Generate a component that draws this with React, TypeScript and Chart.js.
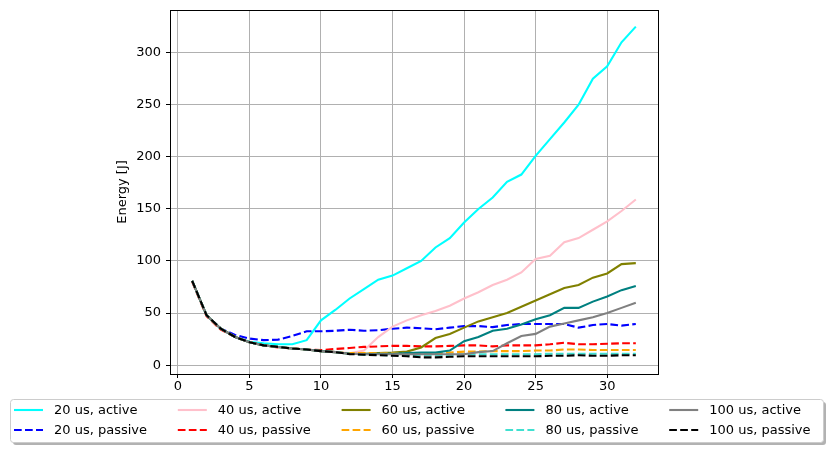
import { useEffect, useRef } from "react";
import { Chart, registerables } from "chart.js";

Chart.register(...registerables);

const xValues = [
  1, 2, 3, 4, 5, 6, 7, 8, 9, 10, 11, 12, 13, 14, 15, 16, 17, 18, 19, 20, 21,
  22, 23, 24, 25, 26, 27, 28, 29, 30, 31, 32,
];

const xTicks = [0, 5, 10, 15, 20, 25, 30];
const yTicks = [0, 50, 100, 150, 200, 250, 300];

const active20 = [
  81, 48, 35, 27, 22.5, 21, 20, 20, 24, 43, 53, 64, 73, 82, 86, 93, 100, 113,
  122, 137, 150, 161, 176, 183, 201, 217, 233, 250, 275, 287, 310, 325,
];
const passive20 = [
  81, 48, 35, 29, 25.5, 24, 24.5, 28, 32.5, 32.5, 33, 34, 33, 33.5, 35, 36,
  35.5, 34.5, 36, 37.5, 37.5, 36.5, 38.5, 39.5, 39.5, 39.5, 39.5, 36, 38.5,
  39.5, 38, 39.5,
];
const active40 = [
  81, 48, 35, 27, 22, 19, 17.5, 16, 15, 13.5, 12.5, 11.5, 14, 27, 37, 43, 48,
  52, 57, 64, 70, 77, 82, 89, 102, 105, 118, 122, 130, 138, 148, 159,
];
const passive40 = [
  80, 47, 34, 27, 22, 19, 17, 16, 15, 14.5, 15.5, 16.5, 17.5, 18, 18.5, 18.5,
  18, 18, 18.5, 19, 19, 18, 19, 19, 19, 20, 21.5, 20, 20, 20.5, 21, 21,
];
const active60 = [
  81, 48, 35, 27, 22, 19, 17.5, 16, 15, 13.5, 12.5, 11, 11, 11.5, 12, 13, 17,
  26, 30, 36, 42, 46, 50, 56, 62, 68, 74, 77, 84, 88, 97, 98,
];
const passive60 = [
  81, 48, 35, 27, 22, 19, 17.5, 16, 15, 13.5, 12.5, 11.5, 11.5, 11.5, 11.5,
  11.5, 11.5, 11.5, 12, 13, 13, 13.5, 13.5, 13.5, 14, 14, 15, 15, 14.5, 14.5,
  14.5, 14.5,
];
const active80 = [
  81, 48, 35, 27, 22, 19, 17.5, 16, 15, 13.5, 12.5, 11, 10.5, 11, 11, 11.5, 12,
  12, 14, 23, 27, 33, 35, 39, 44, 48, 55, 55, 61, 66, 72, 76,
];
const passive80 = [
  81, 48, 35, 27, 22, 19, 17.5, 16, 15, 13.5, 12.5, 11, 10, 9.8, 9.5, 9.5, 9.5,
  9.5, 10, 10.5, 10.5, 10.5, 10.5, 10.5, 10.5, 11, 11, 11, 11, 11, 11, 11,
];
const active100 = [
  81, 48, 35, 27, 22, 19, 17.5, 16, 15, 13.5, 12.5, 11, 10.5, 10.5, 10.5, 10.5,
  10.5, 10.5, 10.5, 10.5, 12.5, 13.5, 21, 28, 30, 37, 40, 43, 46, 50, 55, 60,
];
const passive100 = [
  81, 48, 35, 27, 22, 19, 17.5, 16, 15, 13.5, 12.5, 10.6, 10, 9.6, 9, 8.6, 7.5,
  7.5, 8, 8.5, 8.5, 8.5, 8.5, 8.5, 8.5, 9, 9, 9.5, 9, 9, 9.5, 9.5,
];

const series = [
  { label: "20 us, active", data: active20, color: "#00ffff", dashed: false },
  { label: "20 us, passive", data: passive20, color: "#0000ff", dashed: true },
  { label: "40 us, active", data: active40, color: "#ffc0cb", dashed: false },
  { label: "40 us, passive", data: passive40, color: "#ff0000", dashed: true },
  { label: "60 us, active", data: active60, color: "#808000", dashed: false },
  { label: "60 us, passive", data: passive60, color: "#ffa500", dashed: true },
  { label: "80 us, active", data: active80, color: "#008080", dashed: false },
  { label: "80 us, passive", data: passive80, color: "#40e0d0", dashed: true },
  { label: "100 us, active", data: active100, color: "#808080", dashed: false },
  { label: "100 us, passive", data: passive100, color: "#000000", dashed: true },
];

const DASH = [7.7, 3.3];
const FONT = "DejaVu Sans";

// matplotlib-style frame + legend box below the axes
const framePlugin = {
  id: "frame",
  afterDraw(chart: Chart) {
    const { ctx, chartArea } = chart;
    ctx.save();
    ctx.strokeStyle = "#000";
    ctx.lineWidth = 1;
    ctx.setLineDash([]);
    ctx.strokeRect(
      Math.round(chartArea.left) + 0.5,
      Math.round(chartArea.top) + 0.5,
      Math.round(chartArea.right - chartArea.left),
      Math.round(chartArea.bottom - chartArea.top)
    );

    const bx = 10;
    const by = 399;
    const bw = 813;
    const bh = 43;
    ctx.fillStyle = "rgba(0,0,0,0.3)";
    ctx.beginPath();
    ctx.roundRect(bx + 3, by + 3, bw, bh, 3);
    ctx.fill();
    ctx.fillStyle = "#fff";
    ctx.strokeStyle = "#cccccc";
    ctx.beginPath();
    ctx.roundRect(bx + 0.5, by + 0.5, bw, bh, 3);
    ctx.fill();
    ctx.stroke();

    ctx.font = `13px "${FONT}"`;
    ctx.textBaseline = "middle";
    ctx.textAlign = "left";
    series.forEach((s, i) => {
      const col = Math.floor(i / 2);
      const row = i % 2;
      const x = 14 + col * 163.8;
      const y = 410 + row * 20;
      ctx.strokeStyle = s.color;
      ctx.lineWidth = 2.1;
      ctx.setLineDash(s.dashed ? DASH : []);
      ctx.beginPath();
      ctx.moveTo(x, y);
      ctx.lineTo(x + 29, y);
      ctx.stroke();
      ctx.fillStyle = "#000";
      ctx.fillText(s.label, x + 40, y + 1);
    });
    ctx.restore();
  },
};

export default function App() {
  const canvasRef = useRef<HTMLCanvasElement | null>(null);
  const chartRef = useRef<Chart | null>(null);

  useEffect(() => {
    document.body.style.margin = "0";
    const canvas = canvasRef.current;
    if (!canvas) return;

    chartRef.current?.destroy();
    Chart.defaults.font.family = FONT;
    Chart.defaults.font.size = 13;
    Chart.defaults.color = "#000";

    chartRef.current = new Chart(canvas, {
      type: "line",
      data: {
        datasets: series.map((s, i) => ({
          label: s.label,
          data: s.data.map((v, j) => ({ x: xValues[j], y: v })),
          borderColor: s.color,
          backgroundColor: s.color,
          borderWidth: 2.1,
          borderDash: s.dashed ? DASH : [],
          pointRadius: 0,
          tension: 0,
          order: series.length - i,
        })),
      },
      options: {
        animation: false,
        responsive: false,
        maintainAspectRatio: false,
        layout: {
          padding: { left: 111, right: 172, top: 10, bottom: 49 },
        },
        plugins: {
          legend: { display: false },
          tooltip: { enabled: false },
        },
        scales: {
          x: {
            type: "linear",
            min: -0.55,
            max: 33.55,
            afterBuildTicks: (axis) => {
              axis.ticks = xTicks.map((v) => ({ value: v }));
            },
            afterFit: (scale) => {
              scale.height = 30;
              scale.paddingLeft = 0;
              scale.paddingRight = 0;
            },
            grid: {
              color: "#b0b0b0",
              lineWidth: 1,
              tickColor: "#000",
              tickLength: 4,
            },
            border: { display: false },
            ticks: { padding: 1, maxRotation: 0, autoSkip: false },
          },
          y: {
            type: "linear",
            min: -8.5,
            max: 341,
            afterBuildTicks: (axis) => {
              axis.ticks = yTicks.map((v) => ({ value: v }));
            },
            afterFit: (scale) => {
              scale.width = 59;
              scale.paddingTop = 0;
              scale.paddingBottom = 0;
            },
            grid: {
              color: "#b0b0b0",
              lineWidth: 1,
              tickColor: "#000",
              tickLength: 4,
            },
            border: { display: false },
            ticks: { padding: 5, autoSkip: false },
            title: {
              display: true,
              text: "Energy [J]",
              font: { size: 13 },
            },
          },
        },
      },
      plugins: [framePlugin],
    });

    return () => {
      chartRef.current?.destroy();
      chartRef.current = null;
    };
  }, []);

  return (
    <div style={{ width: 830, height: 453 }}>
      <canvas ref={canvasRef} width={830} height={453} />
    </div>
  );
}
